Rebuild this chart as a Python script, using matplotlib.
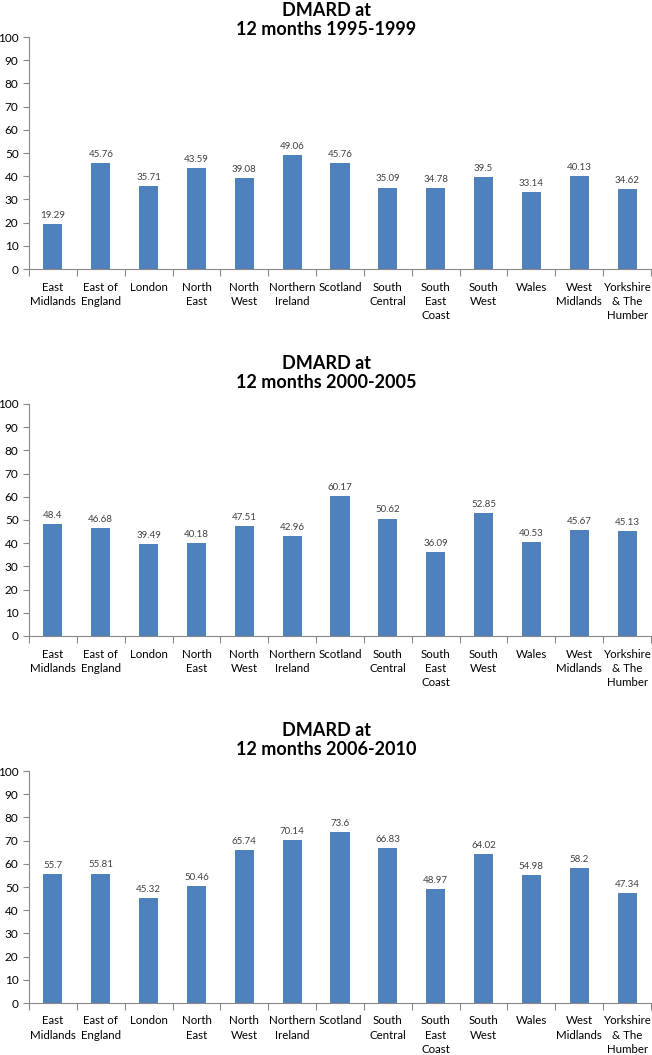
import numpy as np
import matplotlib
matplotlib.use('Agg')
import matplotlib.pyplot as plt

plt.rcParams['font.family'] = ['Lato', 'DejaVu Sans']

# regions on the x axis
regions = ['East\nMidlands', 'East of\nEngland', 'London', 'North\nEast', 'North\nWest',
           'Northern\nIreland', 'Scotland', 'South\nCentral', 'South\nEast\nCoast',
           'South\nWest', 'Wales', 'West\nMidlands', 'Yorkshire\n& The\nHumber']

titles = ['DMARD at\n12 months 1995-1999',
          'DMARD at\n12 months 2000-2005',
          'DMARD at\n12 months 2006-2010']

vals_1995 = [19.29, 45.76, 35.71, 43.59, 39.08, 49.06, 45.76, 35.09, 34.78, 39.5, 33.14, 40.13, 34.62]
vals_2000 = [48.4, 46.68, 39.49, 40.18, 47.51, 42.96, 60.17, 50.62, 36.09, 52.85, 40.53, 45.67, 45.13]
vals_2006 = [55.7, 55.81, 45.32, 50.46, 65.74, 70.14, 73.6, 66.83, 48.97, 64.02, 54.98, 58.2, 47.34]

series = [vals_1995, vals_2000, vals_2006]

W, H = 652, 1055
fig = plt.figure(figsize=(W / 100, H / 100), dpi=100)

# axes boxes in pixels (top of 100, position of 0)
boxes = [(37, 269), (404, 636), (771, 1003)]
title_y = [20, 373, 740]
left_px, right_px = 29, 651
bar_col = '#4F81BD'
axis_col = '#888888'
txt_col = '#404040'

for vals, title, (top, bot), ty in zip(series, titles, boxes, title_y):
    ax = fig.add_axes([left_px / W, 1 - bot / H, (right_px - left_px) / W, (bot - top) / H])
    x = np.arange(len(regions))
    rects = ax.bar(x, vals, width=0.4, color=bar_col)
    for r, v in zip(rects, vals):
        ax.annotate('{}'.format(v), xy=(r.get_x() + r.get_width() / 2, r.get_height()),
                    xytext=(0, 3), textcoords='offset points',
                    ha='center', va='bottom', fontsize=7, color=txt_col)
    ax.set_xlim(-0.5, len(regions) - 0.5)
    ax.set_ylim(0, 100)
    ax.set_yticks(np.arange(0, 101, 10))
    ax.tick_params(axis='y', labelsize=8.5, colors=axis_col, labelcolor='black', length=4, width=0.8)
    # category separators as x ticks
    ax.set_xticks(np.arange(-0.5, len(regions), 1))
    ax.set_xticklabels([])
    ax.set_xticks(x, minor=True)
    ax.set_xticklabels(regions, minor=True, fontsize=8.3, color='black', va='top', linespacing=1.35)
    ax.tick_params(axis='x', which='major', length=5, width=0.8, colors=axis_col)
    ax.tick_params(axis='x', which='minor', length=0, pad=9)
    for s in ['top', 'right']:
        ax.spines[s].set_visible(False)
    for s in ['left', 'bottom']:
        ax.spines[s].set_color(axis_col)
        ax.spines[s].set_linewidth(0.8)
    fig.text(0.5, 1 - ty / H, title, ha='center', va='center', fontsize=13,
             fontweight='bold', linespacing=1.2)

fig.savefig('out.png', dpi=100)
